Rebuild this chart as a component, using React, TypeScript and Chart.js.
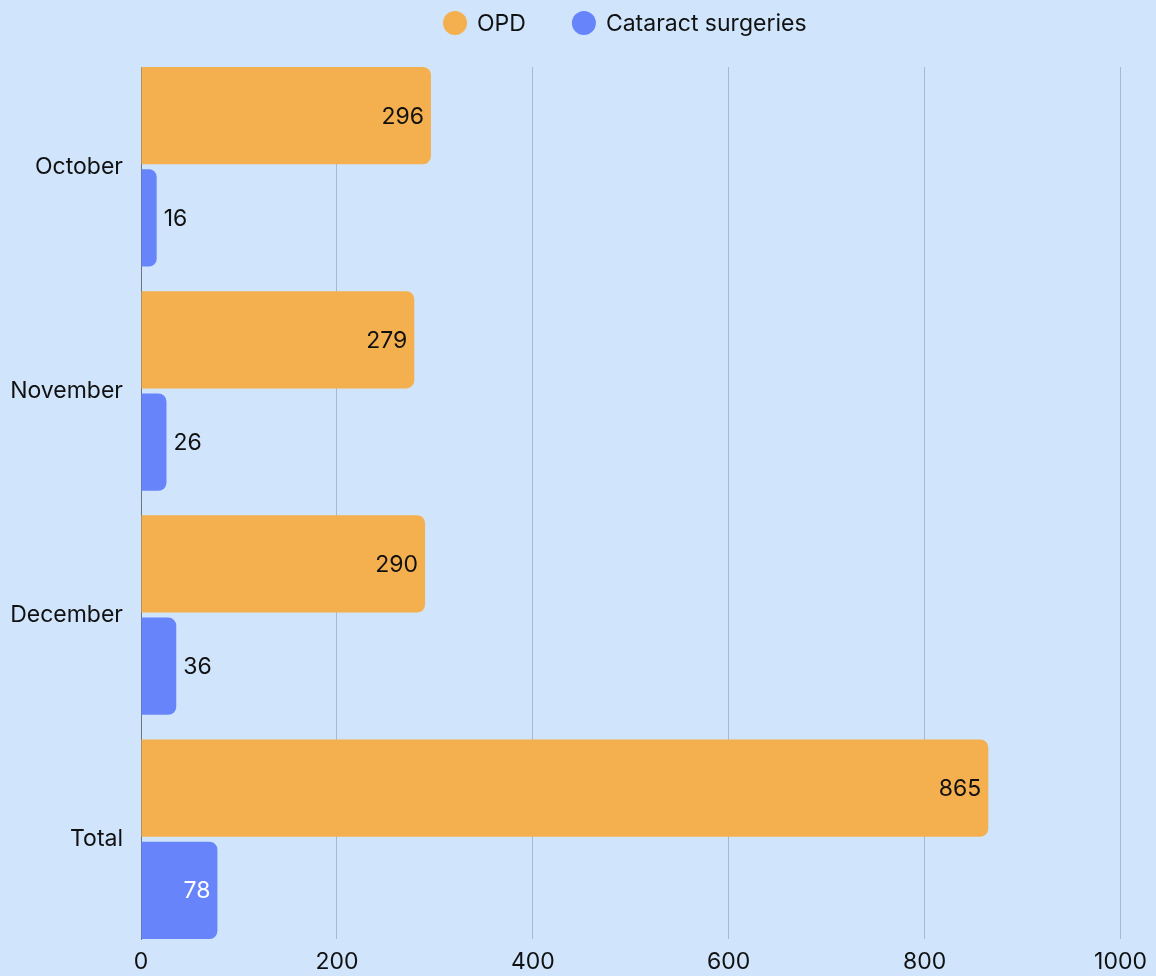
import React, { useEffect, useRef } from "react";
import { Chart, registerables } from "chart.js";

Chart.register(...registerables);

const categories = ["October", "November", "December", "Total"];
const opdValues = [296, 279, 290, 865];
const cataractValues = [16, 26, 36, 78];
const seriesNames = ["OPD", "Cataract surgeries"];
const seriesColors = ["#f4b04f", "#6784fa"];
const xTickMax = 1000;
const xTickStep = 200;

const BG = "#d0e5fc";
const FONT = "Inter, 'Noto Sans', sans-serif";
const FS = 23;
const TEXT = "#111111";

const dataLabelPlugin = {
  id: "dataLabels",
  afterDatasetsDraw(chart: any) {
    const ctx = chart.ctx;
    ctx.save();
    ctx.font = `${FS}px ${FONT}`;
    ctx.textBaseline = "middle";
    chart.data.datasets.forEach((ds: any, di: number) => {
      const meta = chart.getDatasetMeta(di);
      meta.data.forEach((el: any, i: number) => {
        const v = ds.data[i].x;
        const txt = String(v);
        const tw = ctx.measureText(txt).width;
        const w = el.x - el.base;
        if (w >= tw + 14) {
          ctx.textAlign = "right";
          ctx.fillStyle = di === 0 ? TEXT : "#ffffff";
          ctx.fillText(txt, el.x - 7, el.y + 1);
        } else {
          ctx.textAlign = "left";
          ctx.fillStyle = TEXT;
          ctx.fillText(txt, el.x + 7, el.y + 1);
        }
      });
    });
    ctx.restore();
  },
};

const legendPlugin = {
  id: "customLegend",
  afterDraw(chart: any) {
    const ctx = chart.ctx;
    const area = chart.chartArea;
    ctx.save();
    ctx.font = `${FS}px ${FONT}`;
    ctx.textBaseline = "middle";
    const r = 12;
    const gapText = 10;
    const gapItem = 46;
    const widths = seriesNames.map((n) => ctx.measureText(n).width);
    let total = 0;
    widths.forEach((w, i) => {
      total += 2 * r + gapText + w + (i < widths.length - 1 ? gapItem : 0);
    });
    let x = (area.left + area.right) / 2 - 6 - total / 2;
    const y = 23;
    seriesNames.forEach((n, i) => {
      ctx.beginPath();
      ctx.fillStyle = seriesColors[i];
      ctx.arc(x + r, y, r, 0, Math.PI * 2);
      ctx.fill();
      ctx.fillStyle = TEXT;
      ctx.textAlign = "left";
      ctx.fillText(n, x + 2 * r + gapText, y + 1);
      x += 2 * r + gapText + widths[i] + gapItem;
    });
    ctx.restore();
  },
};

export default function App() {
  const ref = useRef<HTMLCanvasElement | null>(null);

  useEffect(() => {
    document.body.style.margin = "0";
    document.body.style.background = BG;
    if (!ref.current) return;
    const chart = new Chart(ref.current, {
      type: "bar",
      data: {
        datasets: [
          {
            label: seriesNames[0],
            data: opdValues.map((v, i) => ({ x: v, y: i })),
            backgroundColor: seriesColors[0],
            borderRadius: 8,
            borderSkipped: "start",
            categoryPercentage: 0.9128,
            barPercentage: 0.951,
          },
          {
            label: seriesNames[1],
            data: cataractValues.map((v, i) => ({ x: v, y: i })),
            backgroundColor: seriesColors[1],
            borderRadius: 8,
            borderSkipped: "start",
            categoryPercentage: 0.9128,
            barPercentage: 0.951,
          },
        ],
      },
      options: {
        indexAxis: "y",
        responsive: false,
        animation: false,
        layout: { padding: { top: 67, right: 32, left: 0, bottom: 0 } },
        plugins: {
          legend: { display: false },
          tooltip: { enabled: false },
        },
        scales: {
          x: {
            type: "linear",
            min: 0,
            max: xTickMax,
            ticks: {
              stepSize: xTickStep,
              color: TEXT,
              font: { family: FONT, size: FS },
              padding: 9,
              callback: (v: any) => String(v),
            },
            grid: { color: "#a9b8ca", drawTicks: false, lineWidth: 1 },
            border: { display: false },
            afterFit: (s: any) => {
              s.height = 37;
            },
          },
          y: {
            type: "linear",
            reverse: true,
            offset: false,
            min: -0.4452,
            max: categories.length - 1 + 0.4452,
            afterBuildTicks: (s: any) => {
              s.ticks = categories.map((_, i) => ({ value: i }));
            },
            ticks: {
              color: TEXT,
              font: { family: FONT, size: FS },
              padding: 18,
              callback: (v: any) => categories[Math.round(Number(v))] ?? "",
            },
            grid: { display: false, drawTicks: false, offset: false },
            border: { display: true, color: "#6b7580", width: 1 },
            afterFit: (s: any) => {
              s.width = 141;
            },
          },
        },
      } as any,
      plugins: [dataLabelPlugin, legendPlugin],
    });
    return () => chart.destroy();
  }, []);

  return (
    <div style={{ width: 1156, height: 976, background: BG }}>
      <canvas ref={ref} width={1156} height={976} />
    </div>
  );
}
